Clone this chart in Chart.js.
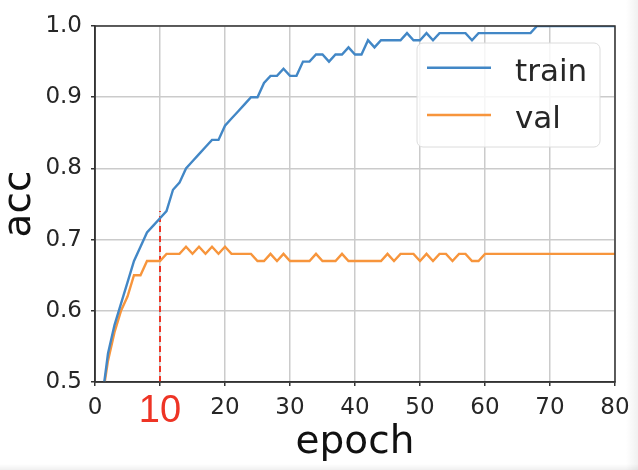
<!DOCTYPE html>
<html>
<head>
<meta charset="utf-8">
<script src="https://cdn.jsdelivr.net/npm/chart.js@4.4.0/dist/chart.umd.min.js"></script>
<style>
  html, body { margin: 0; padding: 0; }
  body {
    width: 638px; height: 470px; overflow: hidden;
    background:
      linear-gradient(to right, rgba(0,0,0,0) 626px, rgba(0,0,0,0.06) 638px),
      linear-gradient(to bottom, rgba(0,0,0,0) 464px, rgba(0,0,0,0.06) 470px),
      #ffffff;
  }
  #wrap { position: relative; width: 638px; height: 470px; }
</style>
</head>
<body>
<div id="wrap"><canvas id="c"></canvas></div>
<script>
// ---- data ----
const epochs = Array.from({length: 80}, (_, i) => i + 1);
const trainAcc = [
  0.47, 0.54, 0.58, 0.61, 0.64, 0.67, 0.69, 0.71, 0.72, 0.73,
  0.74, 0.77, 0.78, 0.80, 0.81, 0.82, 0.83, 0.84, 0.84, 0.86,
  0.87, 0.88, 0.89, 0.90, 0.90, 0.92, 0.93, 0.93, 0.94, 0.93,
  0.93, 0.95, 0.95, 0.96, 0.96, 0.95, 0.96, 0.96, 0.97, 0.96,
  0.96, 0.98, 0.97, 0.98, 0.98, 0.98, 0.98, 0.99, 0.98, 0.98,
  0.99, 0.98, 0.99, 0.99, 0.99, 0.99, 0.99, 0.98, 0.99, 0.99,
  0.99, 0.99, 0.99, 0.99, 0.99, 0.99, 0.99, 1.00, 1.00, 1.00,
  1.00, 1.00, 1.00, 1.00, 1.00, 1.00, 1.00, 1.00, 1.00, 1.00
];
const valAcc = [
  0.47, 0.53, 0.57, 0.60, 0.62, 0.65, 0.65, 0.67, 0.67, 0.67,
  0.68, 0.68, 0.68, 0.69, 0.68, 0.69, 0.68, 0.69, 0.68, 0.69,
  0.68, 0.68, 0.68, 0.68, 0.67, 0.67, 0.68, 0.67, 0.68, 0.67,
  0.67, 0.67, 0.67, 0.68, 0.67, 0.67, 0.67, 0.68, 0.67, 0.67,
  0.67, 0.67, 0.67, 0.67, 0.68, 0.67, 0.68, 0.68, 0.68, 0.67,
  0.68, 0.67, 0.68, 0.68, 0.67, 0.68, 0.68, 0.67, 0.67, 0.68,
  0.68, 0.68, 0.68, 0.68, 0.68, 0.68, 0.68, 0.68, 0.68, 0.68,
  0.68, 0.68, 0.68, 0.68, 0.68, 0.68, 0.68, 0.68, 0.68, 0.68
];
const seriesLabels = ['train', 'val'];
const markerEpoch = 10;          // highlighted epoch (red dashed line + red tick label)
const markerRange = [0.5, 0.74]; // extent of the red dashed line
const xTicks = [0, 10, 20, 30, 40, 50, 60, 70, 80];
const yTicks = [0.5, 0.6, 0.7, 0.8, 0.9, 1.0];
const xTitle = 'epoch';
const yTitle = 'acc';

// ---- styles ----
const BLUE = '#4287c6';
const ORANGE = '#f7953c';
const RED = '#ee3425';
const TEXT = '#262626';
const SPINE = '#333333';
const GRID = '#cbcbcb';

const toXY = (arr) => arr.map((v, i) => ({x: epochs[i], y: v}));

// spines (full box) plugin
const boxPlugin = {
  id: 'box',
  afterDatasetsDraw(chart) {
    const {ctx, chartArea: a} = chart;
    ctx.save();
    ctx.strokeStyle = SPINE;
    ctx.lineWidth = 1.5;
    ctx.strokeRect(a.left, a.top, a.right - a.left, a.bottom - a.top);
    ctx.restore();
  }
};

// matplotlib-like legend inside the plot
const legendPlugin = {
  id: 'mplLegend',
  afterDraw(chart) {
    const {ctx} = chart;
    const x0 = 417, y0 = 43, w = 183, h = 104, r = 6;
    ctx.save();
    ctx.beginPath();
    ctx.moveTo(x0 + r, y0);
    ctx.arcTo(x0 + w, y0, x0 + w, y0 + h, r);
    ctx.arcTo(x0 + w, y0 + h, x0, y0 + h, r);
    ctx.arcTo(x0, y0 + h, x0, y0, r);
    ctx.arcTo(x0, y0, x0 + w, y0, r);
    ctx.closePath();
    ctx.fillStyle = 'rgba(255,255,255,0.82)';
    ctx.fill();
    ctx.strokeStyle = '#dcdcdc';
    ctx.lineWidth = 1;
    ctx.stroke();
    const rows = [67.7, 115];
    chart.data.datasets.slice(0, 2).forEach((ds, i) => {
      const yy = rows[i];
      ctx.beginPath();
      ctx.strokeStyle = ds.borderColor;
      ctx.lineWidth = 2.4;
      ctx.moveTo(427, yy);
      ctx.lineTo(491, yy);
      ctx.stroke();
      ctx.fillStyle = TEXT;
      ctx.font = '31px "DejaVu Sans"';
      ctx.textAlign = 'left';
      ctx.textBaseline = 'alphabetic';
      ctx.fillText(ds.label, 515, yy + 13.3);
    });
    ctx.restore();
  }
};

const isMarker = (c) => c && c.tick && c.tick.value === markerEpoch;

new Chart(document.getElementById('c'), {
  type: 'line',
  data: {
    datasets: [
      { label: seriesLabels[0], data: toXY(trainAcc), borderColor: BLUE, backgroundColor: BLUE,
        borderWidth: 2.4, pointRadius: 0, tension: 0, clip: 0 },
      { label: seriesLabels[1], data: toXY(valAcc), borderColor: ORANGE, backgroundColor: ORANGE,
        borderWidth: 2.4, pointRadius: 0, tension: 0, clip: 0 },
      { label: 'marker', data: markerRange.map(v => ({x: markerEpoch, y: v})), borderColor: RED,
        borderWidth: 2, borderDash: [6, 4], pointRadius: 0, clip: 0 }
    ]
  },
  options: {
    responsive: true,
    maintainAspectRatio: false,
    animation: false,
    events: [],
    layout: { padding: { left: 0, right: 23, top: 26, bottom: 0 } },
    plugins: { legend: { display: false }, tooltip: { enabled: false } },
    scales: {
      x: {
        type: 'linear', min: 0, max: 80,
        afterBuildTicks: (s) => { s.ticks = xTicks.map(v => ({value: v})); },
        afterFit: (s) => { s.height = 88; },
        ticks: {
          autoSkip: false, maxRotation: 0, padding: 8,
          color: (c) => isMarker(c) ? RED : TEXT,
          font: (c) => isMarker(c)
            ? {family: '"Liberation Sans", Arial, sans-serif', size: 38, lineHeight: 0.9}
            : {family: '"DejaVu Sans"', size: 23, lineHeight: 1.2},
          callback: (v) => String(v)
        },
        grid: { color: GRID, lineWidth: 1.5, tickColor: SPINE, tickLength: 4, tickWidth: 1.5 },
        border: { display: true, color: SPINE, width: 1.5 },
        title: { display: true, text: xTitle, color: '#111',
          font: {family: '"DejaVu Sans"', size: 39, lineHeight: 1}, padding: {top: 0, bottom: 8} }
      },
      y: {
        type: 'linear', min: 0.5, max: 1.0,
        afterBuildTicks: (s) => { s.ticks = yTicks.map(v => ({value: v})); },
        afterFit: (s) => { s.width = 95; },
        ticks: {
          padding: 9, color: TEXT,
          font: {family: '"DejaVu Sans"', size: 23},
          callback: (v) => Number(v).toFixed(1)
        },
        grid: { color: GRID, lineWidth: 1.5, tickColor: SPINE, tickLength: 4, tickWidth: 1.5 },
        border: { display: true, color: SPINE, width: 1.5 },
        title: { display: true, text: yTitle, color: '#111',
          font: {family: '"DejaVu Sans"', size: 39, lineHeight: 1}, padding: {top: 0, bottom: 0} }
      }
    }
  },
  plugins: [boxPlugin, legendPlugin]
});
</script>
</body>
</html>
